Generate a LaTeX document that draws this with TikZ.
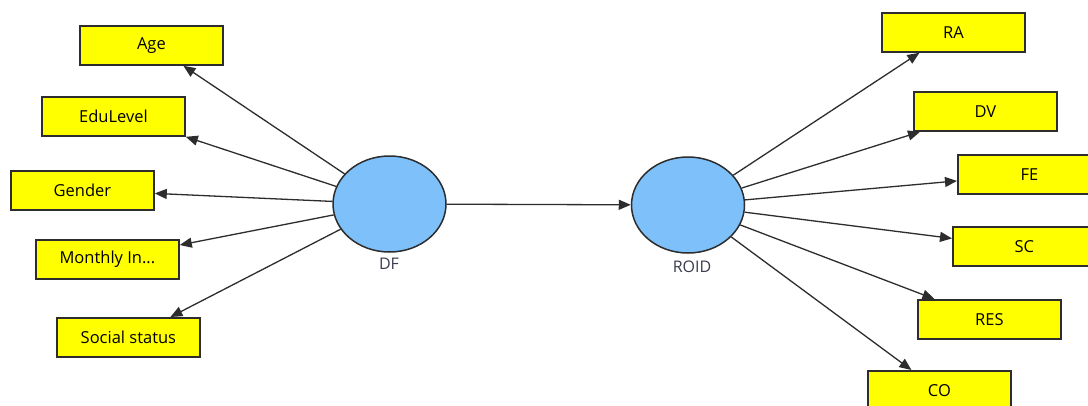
\documentclass[tikz,border=0pt]{standalone}
\usepackage{fontspec}
\setmainfont{Open Sans}
\usetikzlibrary{shapes.geometric,arrows.meta}
\definecolor{boxfill}{RGB}{255,255,0}
\definecolor{lvfill}{RGB}{125,192,250}
\definecolor{edge}{RGB}{45,45,45}
\definecolor{lvtext}{RGB}{60,60,80}
\tikzset{
  ind/.style={draw=edge, line width=1.8pt, fill=boxfill, rectangle, anchor=north west,
    minimum width=143pt, minimum height=39pt, inner sep=0pt,
    font=\fontsize{16.5}{19}\selectfont},
  lv/.style={draw=edge, line width=1.5pt, fill=lvfill, ellipse,
    minimum width=113pt, minimum height=96pt, inner sep=0pt},
  lvlabel/.style={text=lvtext, font=\fontsize{16}{18}\selectfont},
  arr/.style={draw=edge, line width=1.3pt, -{Triangle[length=12pt,width=10pt]}}
}
\begin{document}
\begin{tikzpicture}[x=1pt,y=-1pt]
\useasboundingbox (0,0) rectangle (1088,405);
\clip (0,0) rectangle (1088,405);
\fill[white] (0,0) rectangle (1088,405);

% latent variables
\node[lv] (DF) at (389.5,204) {};
\node[lv] (ROID) at (688,205) {};
\node[lvlabel] (DFl) at (389,264) {DF};
\node[lvlabel] (ROIDl) at (692,267) {ROID};

% indicators of DF
\node[ind] (Age) at (79,25) {Age};
\node[ind] (Edu) at (41,96) {EduLevel};
\node[ind] (Gen) at (10,170) {Gender};
\node[ind] (Mon) at (35,239) {Monthly In...};
\node[ind] (Soc) at (56,317) {Social status};

% indicators of ROID
\node[ind] (RA) at (881,12) {RA};
\node[ind] (DV) at (913,91) {DV};
\node[ind] (FE) at (957,154) {FE};
\node[ind] (SC) at (952,226) {SC};
\node[ind] (RES) at (917,299) {RES};
\node[ind] (CO) at (867,370) {CO};

% paths
\draw[arr] (DF) -- ([xshift=32pt]Age.south);
\draw[arr] (DF) -- (Edu.south east);
\draw[arr] (DF) -- ([yshift=-3pt]Gen.east);
\draw[arr] (DF) -- ([yshift=-6pt]Mon.north east);
\draw[arr] (DF) -- ([xshift=42pt]Soc.north);

\draw[arr] (DF) -- (ROID);

\draw[arr] (ROID) -- ([xshift=-34pt]RA.south);
\draw[arr] (ROID) -- ([xshift=7pt]DV.south west);
\draw[arr] (ROID) -- ([yshift=-6.5pt]FE.west);
\draw[arr] (ROID) -- ([yshift=8pt]SC.west);
\draw[arr] (ROID) -- ([xshift=-55pt]RES.north);
\draw[arr] (ROID) -- ([xshift=-28pt]CO.north);
\end{tikzpicture}
\end{document}
